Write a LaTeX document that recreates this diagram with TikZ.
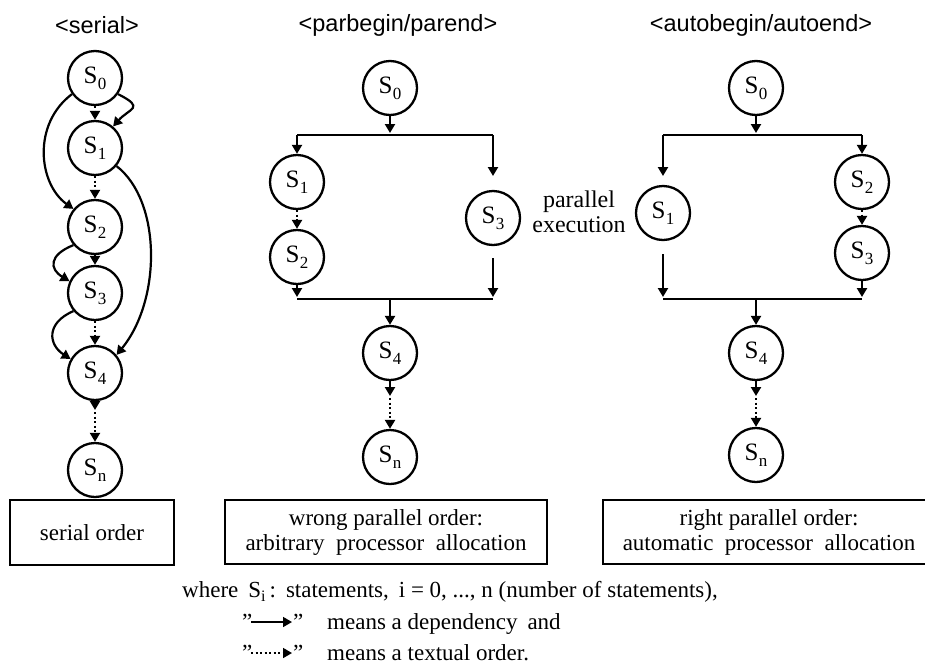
\documentclass[tikz,border=0pt]{standalone}
\usepackage{fontspec}
\setmainfont{Liberation Serif}
\newfontfamily\titlefont{Liberation Sans}
\usetikzlibrary{arrows.meta}
% statement label: S with a lowered index
\newcommand\stname[1]{S\kern.5pt\raisebox{-6pt}{\fontsize{17}{17}\selectfont #1}}
% straight double quote
\newcommand\sq{\char34}
\begin{document}
\begin{tikzpicture}[x=1pt,y=1pt,
  stmt/.style={circle,draw,line width=2.3pt,minimum size=54pt,inner sep=0pt,
    font=\fontsize{25}{25}\selectfont},
  dep/.style={line width=2.2pt,-{Triangle[length=9pt,width=10pt]}},
  ord/.style={line width=2.2pt,dash pattern=on 2pt off 2.5pt,
    -{Triangle[length=9pt,width=10pt]}},
  bar/.style={line width=2.2pt},
  caption/.style={draw,line width=2.3pt,inner sep=0pt,align=center,
    font=\fontsize{23}{25}\selectfont},
  title/.style={font=\titlefont\fontsize{23.5}{23.5}\selectfont},
  note/.style={font=\fontsize{23}{23}\selectfont,anchor=base west,inner sep=0pt}]

\useasboundingbox (0,0) rectangle (925,-667);

% ---------- titles ----------
\node[title] (tser) at (97,-25) {<serial>};
\node[title] (tpar) at (398,-25) {<parbegin/parend>};
\node[title] (taut) at (761,-25) {<autobegin/autoend>};

% ---------- serial order ----------
\node[stmt] (s0) at (95,-78)  {\stname{0}};
\node[stmt] (s1) at (95,-148) {\stname{1}};
\node[stmt] (s2) at (95,-227) {\stname{2}};
\node[stmt] (s3) at (95,-293) {\stname{3}};
\node[stmt] (s4) at (95,-373) {\stname{4}};
\node[stmt] (sn) at (95,-470) {\stname{n}};
\draw[ord] (s0) -- (s1);
\draw[ord] (s1) -- (s2);
\draw[ord] (s2) -- (s3);
\draw[ord] (s3) -- (s4);
\coordinate (s4a) at (95,-410);
\coordinate (s4b) at (95,-412);
\draw[dep] (s4) -- (s4a);
\draw[ord] (s4b) -- (sn);
% dependencies between statements
\draw[dep] (s0.-35) .. controls +(28,-14) and +(16,18) .. (s1.50);
\draw[dep] (s0.215) .. controls +(-40,-30) and +(-35,25) .. (s2.140);
\draw[dep] (s1.-40) .. controls +(45,-35) and +(45,55) .. (s4.40);
\draw[dep] (s2.220) .. controls +(-25,-10) and +(-20,12) .. (s3.155);
\draw[dep] (s3.220) .. controls +(-28,-12) and +(-22,14) .. (s4.150);
\node[caption,minimum width=164pt,minimum height=65pt] (cser) at (92,-532.5) {serial order};

% ---------- parbegin / parend ----------
\node[stmt] (p0) at (390,-88)  {\stname{0}};
\node[stmt] (p1) at (297,-182) {\stname{1}};
\node[stmt] (p2) at (297,-257) {\stname{2}};
\node[stmt] (p3) at (493,-218) {\stname{3}};
\node[stmt] (p4) at (390,-353) {\stname{4}};
\node[stmt] (pn) at (390,-457) {\stname{n}};
\coordinate (pfl) at (297,-135);
\coordinate (pfm) at (390,-133);
\coordinate (pfr) at (493,-135);
\coordinate (pfa) at (493,-176);
\coordinate (pjl) at (297,-297);
\coordinate (pjm) at (390,-299);
\coordinate (pjr) at (493,-297);
\coordinate (p3a) at (493,-258);
\draw[bar] (297,-135) -- (493,-135);
\draw[dep] (p0) -- (pfm);
\draw[dep] (pfl) -- (p1);
\draw[dep] (pfr) -- (pfa);
\draw[ord] (p1) -- (p2);
\draw[dep] (p2) -- (pjl);
\draw[dep] (p3a) -- (pjr);
\draw[bar] (297,-299) -- (493,-299);
\draw[dep] (pjm) -- (p4);
\coordinate (p4a) at (390,-396);
\coordinate (p4b) at (390,-398);
\draw[dep] (p4) -- (p4a);
\draw[ord] (p4b) -- (pn);
\node[caption,minimum width=322pt,minimum height=64pt] (cpar) at (386,-532)
  {wrong parallel order:\\arbitrary\enspace processor\enspace allocation};

% ---------- autobegin / autoend ----------
\node[stmt] (a0) at (756,-88)  {\stname{0}};
\node[stmt] (a1) at (663,-213) {\stname{1}};
\node[stmt] (a2) at (862,-182) {\stname{2}};
\node[stmt] (a3) at (862,-253) {\stname{3}};
\node[stmt] (a4) at (756,-353) {\stname{4}};
\node[stmt] (an) at (756,-455) {\stname{n}};
\coordinate (afl) at (663,-135);
\coordinate (afm) at (756,-133);
\coordinate (afr) at (862,-135);
\coordinate (afa) at (663,-176);
\coordinate (ajl) at (663,-297);
\coordinate (ajm) at (756,-299);
\coordinate (ajr) at (862,-297);
\coordinate (a1a) at (663,-254);
\draw[bar] (663,-135) -- (862,-135);
\draw[dep] (a0) -- (afm);
\draw[dep] (afl) -- (afa);
\draw[dep] (afr) -- (a2);
\draw[ord] (a2) -- (a3);
\draw[dep] (a3) -- (ajr);
\draw[dep] (a1a) -- (ajl);
\draw[bar] (663,-299) -- (862,-299);
\draw[dep] (ajm) -- (a4);
\coordinate (a4a) at (756,-396);
\coordinate (a4b) at (756,-398);
\draw[dep] (a4) -- (a4a);
\draw[ord] (a4b) -- (an);
\node[align=center,inner sep=0pt,font=\fontsize{24}{25}\selectfont]
  (par) at (579,-212) {parallel\\execution};
\node[caption,minimum width=332pt,minimum height=64pt] (caut) at (769,-532)
  {right parallel order:\\automatic\enspace processor\enspace allocation};

% ---------- legend ----------
\node[note] (where) at (182,-597)
  {where\hspace{10pt}S\raisebox{-4pt}{\fontsize{16}{16}\selectfont i}\hspace{4pt}:\hspace{10pt}statements,\hspace{10pt}i = 0, ..., n (number of statements),};
\node[note] (q1) at (242,-629) {\sq};
\node[note] (q2) at (293,-629) {\sq};
\coordinate (l1a) at (251,-622);
\coordinate (l1b) at (292,-622);
\draw[dep,line width=1.6pt] (l1a) -- (l1b);
\node[note] (tdep) at (327,-629) {means a dependency\hspace{10pt}and};
\node[note] (q3) at (242,-660) {\sq};
\node[note] (q4) at (293,-660) {\sq};
\coordinate (l2a) at (251,-653);
\coordinate (l2b) at (292,-653);
\draw[ord,line width=1.6pt] (l2a) -- (l2b);
\node[note] (tord) at (327,-660) {means a textual order.};
\end{tikzpicture}
\end{document}
